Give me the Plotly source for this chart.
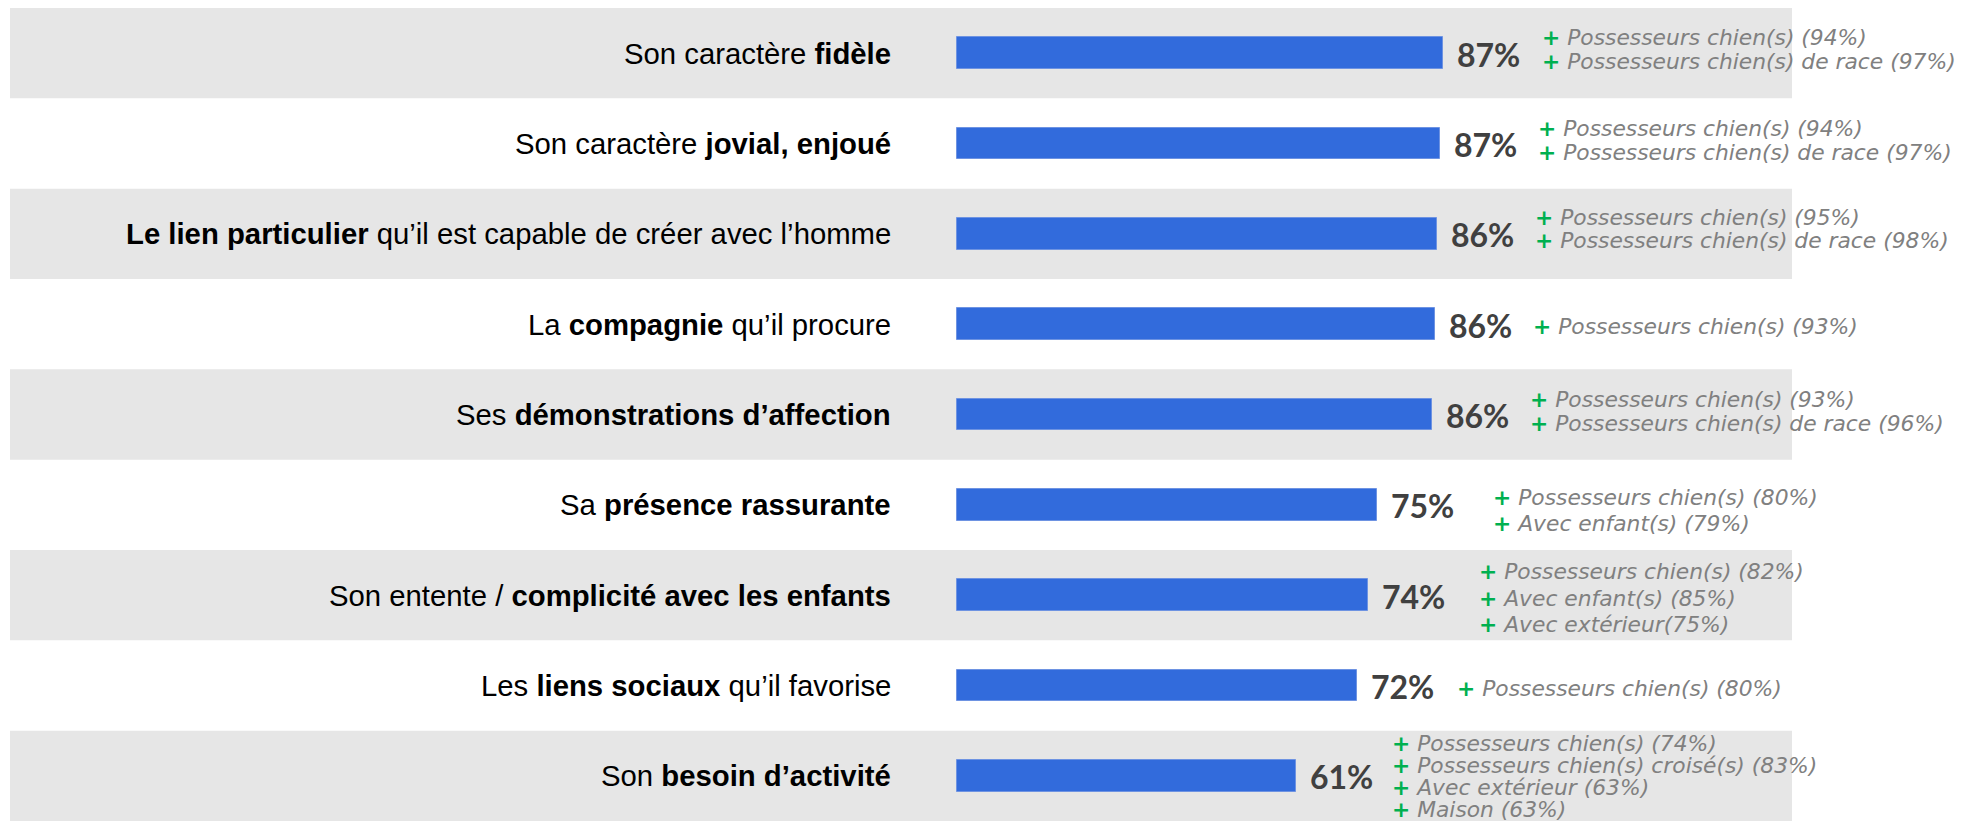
import plotly.graph_objects as go

# data
categories = [
    "Son caractère <b>fidèle</b>",
    "Son caractère <b>jovial, enjoué</b>",
    "<b>Le lien particulier</b> qu’il est capable de créer avec l’homme",
    "La <b>compagnie</b> qu’il procure",
    "Ses <b>démonstrations d’affection</b>",
    "Sa <b>présence rassurante</b>",
    "Son entente / <b>complicité avec les enfants</b>",
    "Les <b>liens sociaux</b> qu’il favorise",
    "Son <b>besoin d’activité</b>",
]
values = [87.1, 86.6, 86.0, 85.7, 85.1, 75.3, 73.7, 71.7, 60.8]
value_labels = ["87%", "87%", "86%", "86%", "86%", "75%", "74%", "72%", "61%"]
details = [
    ["Possesseurs chien(s) (94%)", "Possesseurs chien(s) de race (97%)"],
    ["Possesseurs chien(s) (94%)", "Possesseurs chien(s) de race (97%)"],
    ["Possesseurs chien(s) (95%)", "Possesseurs chien(s) de race (98%)"],
    ["Possesseurs chien(s) (93%)"],
    ["Possesseurs chien(s) (93%)", "Possesseurs chien(s) de race (96%)"],
    ["Possesseurs chien(s) (80%)", "Avec enfant(s) (79%)"],
    ["Possesseurs chien(s) (82%)", "Avec enfant(s) (85%)", "Avec extérieur(75%)"],
    ["Possesseurs chien(s) (80%)"],
    ["Possesseurs chien(s) (74%)", "Possesseurs chien(s) croisé(s) (83%)",
     "Avec extérieur (63%)", "Maison (63%)"],
]

# placement of the side notes (pixels)
note_shift = [97, 96, 96, 96, 96, 114, 109, 98, 94]
note_gap = [24, 24, 23, 24, 24, 26, 26.5, 24, 22]
note_offset = [-4, -3.5, -5, 2, -3, 6, 3, 3, 1]

# page body has an 8px margin, so the figure starts at (8, 8)
W, H = 1957, 813
x0_px, px_per_pt = 949, 5.58

fig = go.Figure(go.Bar(
    x=values, y=categories, orientation='h', width=0.354,
    marker=dict(color='#326BDC', line=dict(color='#6E93E2', width=1)),
    hoverinfo='skip'))

# alternating grey bands
for i in range(len(categories)):
    if i % 2 == 0:
        fig.add_shape(type='rect', xref='paper', yref='y',
                      x0=2 / W, x1=1784 / W, y0=i - 0.5, y1=i + 0.5,
                      fillcolor='#E6E6E6', line_width=0, layer='below')

for i, cat in enumerate(categories):
    # category label
    fig.add_annotation(x=0, y=cat, text=cat, showarrow=False, xanchor='right',
                       xshift=-64, yanchor='middle',
                       font=dict(family='Liberation Sans, Arial', size=29.3, color='#000000'))
    # value label
    fig.add_annotation(x=values[i], y=cat, text=value_labels[i], showarrow=False,
                       xanchor='left', xshift=12, yanchor='middle', yshift=-1,
                       font=dict(family='Lato', size=32, color='#404040', weight='bold'))
    # side notes
    n = len(details[i])
    for k, line in enumerate(details[i]):
        dy = note_offset[i] + (k - (n - 1) / 2) * note_gap[i]
        fig.add_annotation(x=values[i], y=cat,
                           text="<b><span style='color:#00B050'>+</span></b> <i>" + line + "</i>",
                           showarrow=False, xanchor='left', xshift=note_shift[i],
                           yanchor='middle', yshift=-dy,
                           font=dict(family='DejaVu Sans', size=21.8, color='#808080'))

fig.update_layout(width=W, height=H, plot_bgcolor='white', paper_bgcolor='white',
                  showlegend=False, bargap=0,
                  margin=dict(l=0, r=0, t=0, b=0))
fig.update_xaxes(range=[-x0_px / px_per_pt, (W - x0_px) / px_per_pt],
                 visible=False, fixedrange=True)
fig.update_yaxes(range=[8.5, -0.5], showticklabels=False, showgrid=False,
                 zeroline=False, fixedrange=True)

fig.write_html("out.html", config={'displayModeBar': False})
